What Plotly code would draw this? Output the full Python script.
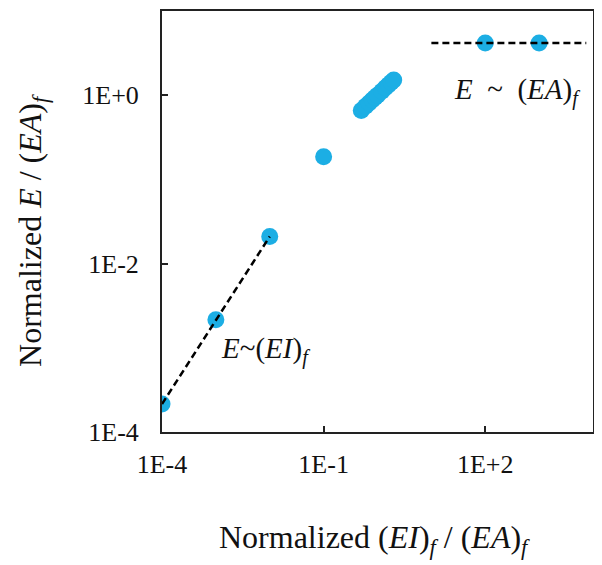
import plotly.graph_objects as go

# data
x_vals = [1e-4, 1e-3, 1e-2, 0.1, 0.5, 0.6, 0.7, 0.8, 0.9, 1.0, 1.2, 1.4, 1.6, 1.8, 2.0, 100, 1000]
y_vals = [2.15e-4, 2.15e-3, 2.1e-2, 0.186, 0.66, 0.737, 0.808, 0.875, 0.939, 1.0, 1.116, 1.224, 1.326, 1.424, 1.516, 4.17, 4.17]

ei_fit_x = [1e-4, 1e-2]
ei_fit_y = [2.15e-4, 2.1e-2]
ea_fit_x = [10, 7500]
ea_fit_y = [4.17, 4.17]

x_tickvals = [1e-4, 1e-1, 1e2]
x_ticktext = ["1E-4", "1E-1", "1E+2"]
y_tickvals = [1e-4, 1e-2, 1e0]
y_ticktext = ["1E-4", "1E-2", "1E+0"]

FONT = "Liberation Serif"
BLUE = "#1CAEE4"

fig = go.Figure()
fig.add_trace(go.Scatter(x=x_vals, y=y_vals, mode="markers",
                         marker=dict(size=17, color=BLUE, line=dict(width=0)),
                         showlegend=False))
fig.add_trace(go.Scatter(x=ei_fit_x, y=ei_fit_y, mode="lines",
                         line=dict(color="black", width=2.5, dash="7px,4px"),
                         showlegend=False))
fig.add_trace(go.Scatter(x=ea_fit_x, y=ea_fit_y, mode="lines",
                         line=dict(color="black", width=2.5, dash="7px,4px"),
                         showlegend=False))

axis_common = dict(type="log", showgrid=False, zeroline=False, showline=True,
                   linecolor="#222", linewidth=2, mirror=True, ticks="inside",
                   ticklen=6, tickwidth=2, tickcolor="#222",
                   tickfont=dict(family=FONT, size=26, color="#111"))

fig.update_xaxes(range=[-4, 4], tickvals=x_tickvals, ticktext=x_ticktext,
                 ticklabelstandoff=8, **axis_common)
fig.update_yaxes(range=[-4, 1], tickvals=y_tickvals, ticktext=y_ticktext,
                 ticklabelstandoff=16, **axis_common)

fig.update_layout(
    width=594, height=557,
    margin=dict(l=154, r=9, t=1, b=133),
    plot_bgcolor="white", paper_bgcolor="white",
    annotations=[
        dict(text="Normalized (<i>EI</i>)<sub><i>f</i></sub> / (<i>EA</i>)<sub><i>f</i></sub>",
             xref="paper", yref="paper", x=0.494, y=-0.255, showarrow=False,
             xanchor="center", yanchor="middle",
             font=dict(family=FONT, size=32, color="#111")),
        dict(text="Normalized <i>E</i> / (<i>EA</i>)<sub><i>f</i></sub>",
             xref="paper", yref="paper", x=-0.299, y=0.478, showarrow=False,
             xanchor="center", yanchor="middle", textangle=-90,
             font=dict(family=FONT, size=32, color="#111")),
        dict(text="<i>E</i>~(<i>EI</i>)<sub><i>f</i></sub>",
             xref="x", yref="y", x=-2.08, y=-3.03, showarrow=False,
             xanchor="center", yanchor="middle",
             font=dict(family=FONT, size=29, color="#111")),
        dict(text="<i>E</i>&nbsp;&nbsp;~&nbsp;&nbsp;(<i>EA</i>)<sub><i>f</i></sub>",
             xref="x", yref="y", x=2.585, y=0.047, showarrow=False,
             xanchor="center", yanchor="middle",
             font=dict(family=FONT, size=29, color="#111")),
    ],
)

fig.write_html("out.html")
